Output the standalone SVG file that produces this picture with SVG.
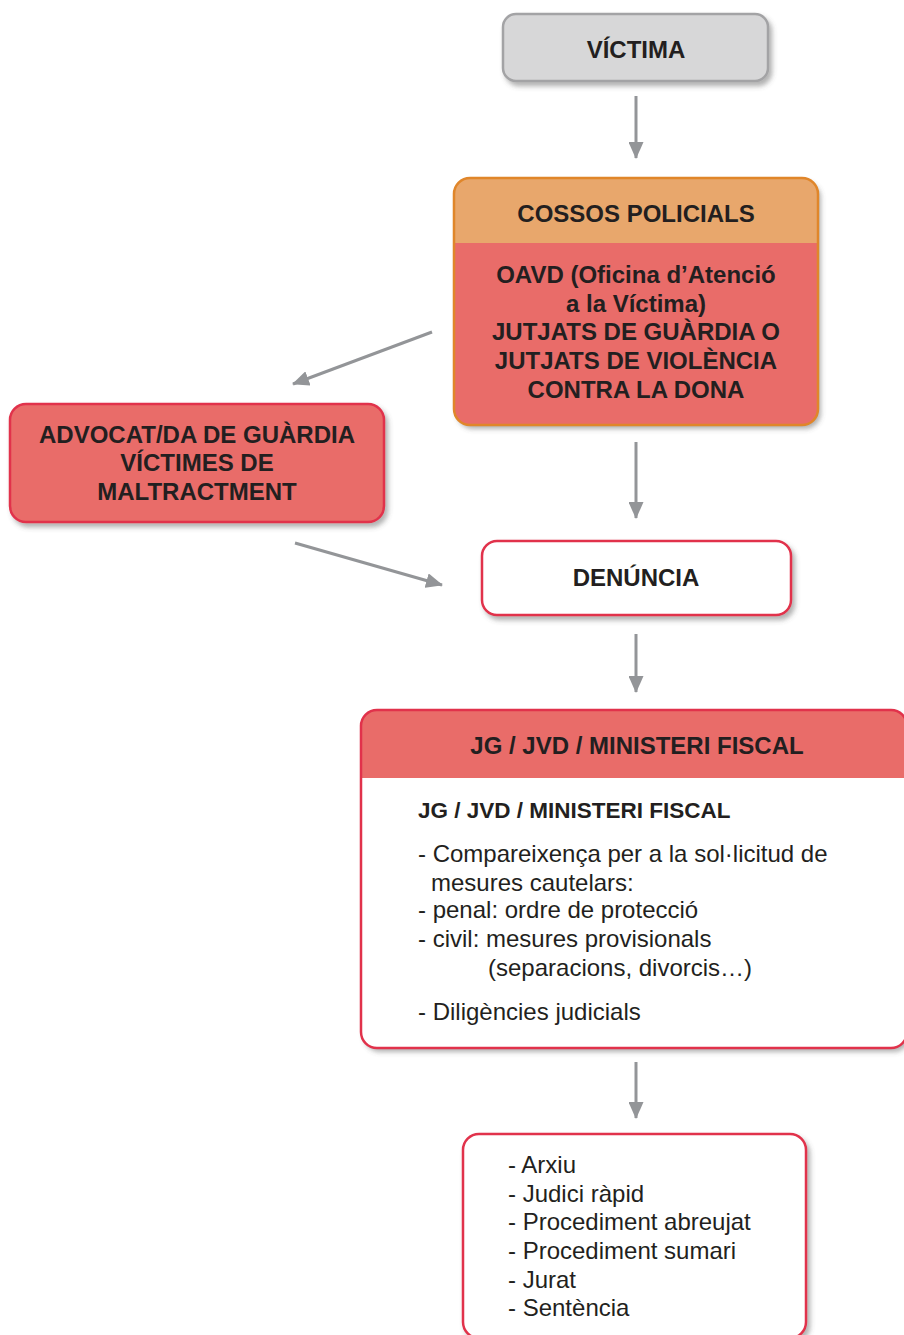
<svg xmlns="http://www.w3.org/2000/svg" width="904" height="1335" viewBox="0 0 904 1335">
<defs>
<filter id="sh" x="-10%" y="-10%" width="125%" height="130%">
<feDropShadow dx="3" dy="4" stdDeviation="2.5" flood-color="#555" flood-opacity="0.45"/>
</filter>
<marker id="ah" markerWidth="17" markerHeight="15" refX="16" refY="7.5" orient="auto" markerUnits="userSpaceOnUse">
<path d="M0,0 L17,7.5 L0,15 Z" fill="#939598"/>
</marker>
</defs>
<style>
.b{font-family:"Liberation Sans",Arial,sans-serif;font-weight:bold;font-size:24px;fill:#231f20;text-anchor:middle}
.r{font-family:"Liberation Sans",Arial,sans-serif;font-size:24px;fill:#231f20}
.bl{font-family:"Liberation Sans",Arial,sans-serif;font-weight:bold;font-size:22.5px;fill:#231f20}
.red{fill:#e96c69;stroke:#e1324b;stroke-width:2.5}
.wh{fill:#ffffff;stroke:#e1324b;stroke-width:2.5}
.con{stroke:#939598;stroke-width:3;fill:none;marker-end:url(#ah)}
</style>
<rect width="904" height="1335" fill="#ffffff"/>
<g id="connectors">
<line class="con" x1="636" y1="96" x2="636" y2="158"/>
<line class="con" x1="432" y1="332" x2="293" y2="384"/>
<line class="con" x1="636" y1="442" x2="636" y2="518"/>
<line class="con" x1="295" y1="543" x2="442" y2="585"/>
<line class="con" x1="636" y1="634" x2="636" y2="692"/>
<line class="con" x1="636" y1="1062" x2="636" y2="1118"/>
</g>
<g id="victima">
<rect x="503" y="14" width="265" height="67" rx="13" fill="#d7d7d8" stroke="#a3a3a5" stroke-width="2.5" filter="url(#sh)"/>
<text class="b" x="636" y="58">VÍCTIMA</text>
</g>
<g id="cossos">
<g filter="url(#sh)">
<rect x="454" y="178" width="364" height="247" rx="16" fill="#e96c69"/>
</g>
<path d="M454,243 V194 A16,16 0 0 1 470,178 H802 A16,16 0 0 1 818,194 V243 Z" fill="#e8a76c"/>
<rect x="454" y="178" width="364" height="247" rx="16" fill="none" stroke="#e0862a" stroke-width="2.5"/>
<text class="b" x="636" y="222">COSSOS POLICIALS</text>
<text class="b" x="636" y="283">OAVD (Oficina d’Atenció</text>
<text class="b" x="636" y="312">a la Víctima)</text>
<text class="b" x="636" y="340">JUTJATS DE GUÀRDIA O</text>
<text class="b" x="636" y="369">JUTJATS DE VIOLÈNCIA</text>
<text class="b" x="636" y="398">CONTRA LA DONA</text>
</g>
<g id="advocat">
<rect class="red" x="10" y="404" width="374" height="118" rx="16" filter="url(#sh)"/>
<text class="b" x="197" y="443">ADVOCAT/DA DE GUÀRDIA</text>
<text class="b" x="197" y="471">VÍCTIMES DE</text>
<text class="b" x="197" y="500">MALTRACTMENT</text>
</g>
<g id="denuncia">
<rect class="wh" x="482" y="541" width="309" height="74" rx="15" filter="url(#sh)"/>
<text class="b" x="636" y="586">DENÚNCIA</text>
</g>
<g id="jg">
<g filter="url(#sh)">
<rect x="361" y="710" width="546" height="338" rx="16" fill="#ffffff"/>
</g>
<path d="M361,778 V726 A16,16 0 0 1 377,710 H891 A16,16 0 0 1 907,726 V778 Z" fill="#e96c69"/>
<rect x="361" y="710" width="546" height="338" rx="16" fill="none" stroke="#e1324b" stroke-width="2.5"/>
<text class="b" x="637" y="754">JG / JVD / MINISTERI FISCAL</text>
<text class="bl" x="418" y="818">JG / JVD / MINISTERI FISCAL</text>
<text class="r" x="418" y="862">- Compareixença per a la sol·licitud de</text>
<text class="r" x="431" y="891">mesures cautelars:</text>
<text class="r" x="418" y="918">- penal: ordre de protecció</text>
<text class="r" x="418" y="947">- civil: mesures provisionals</text>
<text class="r" x="488" y="976">(separacions, divorcis…)</text>
<text class="r" x="418" y="1020">- Diligències judicials</text>
</g>
<g id="resultats">
<rect class="wh" x="463" y="1134" width="343" height="204" rx="16" filter="url(#sh)"/>
<text class="r" x="508" y="1173">- Arxiu</text>
<text class="r" x="508" y="1202">- Judici ràpid</text>
<text class="r" x="508" y="1230">- Procediment abreujat</text>
<text class="r" x="508" y="1259">- Procediment sumari</text>
<text class="r" x="508" y="1288">- Jurat</text>
<text class="r" x="508" y="1316">- Sentència</text>
</g>
</svg>
